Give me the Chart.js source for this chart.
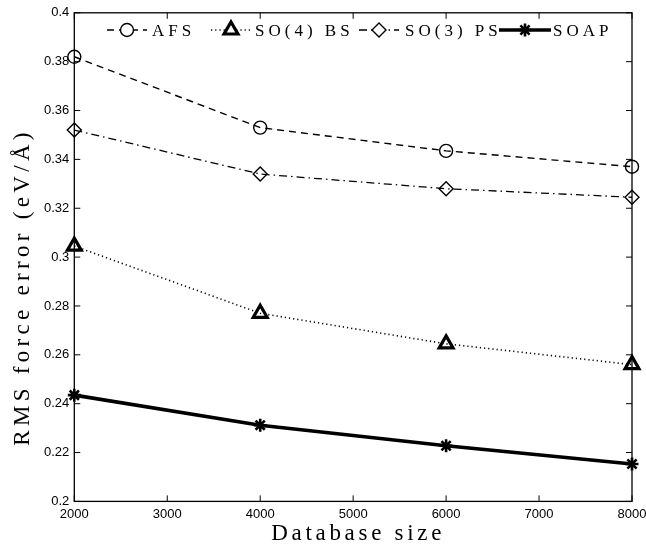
<!DOCTYPE html>
<html>
<head>
<meta charset="utf-8">
<script src="https://cdn.jsdelivr.net/npm/chart.js@4.4.1/dist/chart.umd.min.js"></script>
<style>
html,body{margin:0;padding:0;background:#fff;}
#wrap{width:646px;height:548px;}
</style>
</head>
<body>
<div id="wrap"><canvas id="c" width="646" height="548"></canvas></div>
<script>
const databaseSizes = [2000, 4000, 6000, 8000];
const afsValues = [0.382, 0.353, 0.3435, 0.337];
const so4bsValues = [0.3045, 0.277, 0.2645, 0.256];
const so3psValues = [0.352, 0.334, 0.328, 0.3245];
const soapValues = [0.2435, 0.2312, 0.2228, 0.2153];
const seriesLabels = ['AFS', 'SO(4) BS', 'SO(3) PS', 'SOAP'];
const xTicks = [2000, 3000, 4000, 5000, 6000, 7000, 8000];
const yTicks = [0.2, 0.22, 0.24, 0.26, 0.28, 0.3, 0.32, 0.34, 0.36, 0.38, 0.4];
const xTitle = 'Database size';
const yTitle = 'RMS force error (eV/Å)';

const toPts = vals => databaseSizes.map((x, i) => ({x, y: vals[i]}));

const styles = [
  {dash: [7, 5], width: 1.4, point: 'circle', radius: 6.5, pw: 1.4},
  {dash: [1.2, 3], width: 1.6, point: 'triangle', radius: 8, pw: 3.2},
  {dash: [8, 4, 1.5, 4], width: 1.3, point: 'rectRot', radius: 7, pw: 1.4},
  {dash: [], width: 3.6, point: 'star', radius: 6.5, pw: 2.6}
];
const values = [afsValues, so4bsValues, so3psValues, soapValues];

const datasets = values.map((v, i) => ({
  label: seriesLabels[i],
  data: toPts(v),
  borderColor: '#000',
  backgroundColor: '#fff',
  borderWidth: styles[i].width,
  borderDash: styles[i].dash,
  pointStyle: styles[i].point,
  pointRadius: styles[i].radius,
  pointBorderWidth: styles[i].pw,
  pointBackgroundColor: 'rgba(0,0,0,0)',
  pointBorderColor: '#000',
  tension: 0,
  clip: false
}));

const serifFont = '"Liberation Serif", "DejaVu Serif", serif';
// legend layout: marker centre, sample half-length, text start
const legendSlots = [
  {cx: 127, half: 20, tx: 152},
  {cx: 231, half: 20, tx: 255},
  {cx: 379, half: 20, tx: 405},
  {cx: 525, half: 26, tx: 553}
];

const framePlugin = {
  id: 'frame',
  afterDatasetsDraw(chart) {
    const ctx = chart.ctx;
    const a = chart.chartArea;
    const xs = chart.scales.x, ys = chart.scales.y;
    ctx.save();
    ctx.strokeStyle = '#000';
    ctx.lineWidth = 1.3;
    ctx.setLineDash([]);
    ctx.strokeRect(a.left, a.top, a.right - a.left, a.bottom - a.top);
    ctx.lineWidth = 1;
    const tl = 6;
    ctx.beginPath();
    xTicks.forEach(t => {
      const px = xs.getPixelForValue(t);
      ctx.moveTo(px, a.bottom); ctx.lineTo(px, a.bottom - tl);
      ctx.moveTo(px, a.top); ctx.lineTo(px, a.top + tl);
    });
    yTicks.forEach(t => {
      const py = ys.getPixelForValue(t);
      ctx.moveTo(a.left, py); ctx.lineTo(a.left + tl, py);
      ctx.moveTo(a.right, py); ctx.lineTo(a.right - tl, py);
    });
    ctx.stroke();

    // axis titles
    ctx.fillStyle = '#000';
    ctx.font = '23px ' + serifFont;
    ctx.letterSpacing = '3.7px';
    ctx.textAlign = 'center';
    ctx.textBaseline = 'alphabetic';
    ctx.fillText(xTitle, (a.left + a.right) / 2 + 5, 540);
    ctx.letterSpacing = '4.3px';
    ctx.save();
    ctx.translate(29, 287);
    ctx.rotate(-Math.PI / 2);
    ctx.fillText(yTitle, 0, 0);
    ctx.restore();

    // legend inside
    const y = 30;
    ctx.font = '17px ' + serifFont;
    ctx.letterSpacing = '4px';
    ctx.textAlign = 'left';
    ctx.textBaseline = 'alphabetic';
    chart.data.datasets.forEach((ds, i) => {
      const st = styles[i];
      const sl = legendSlots[i];
      ctx.save();
      ctx.lineWidth = st.width;
      ctx.setLineDash(st.dash);
      ctx.beginPath();
      ctx.moveTo(sl.cx - sl.half, y); ctx.lineTo(sl.cx + sl.half, y);
      ctx.stroke();
      ctx.restore();
      ctx.save();
      ctx.lineWidth = st.pw;
      ctx.strokeStyle = '#000';
      ctx.fillStyle = '#fff';
      ctx.setLineDash([]);
      Chart.helpers.drawPoint(ctx, {pointStyle: st.point, radius: st.radius, borderWidth: st.pw}, sl.cx, y);
      ctx.restore();
      ctx.fillText(ds.label, sl.tx, y + 6);
    });
    ctx.restore();
  }
};

new Chart(document.getElementById('c'), {
  type: 'line',
  data: {datasets},
  options: {
    responsive: false,
    animation: false,
    devicePixelRatio: 1,
    layout: {padding: {left: 39, top: 6, right: 0, bottom: 21}},
    plugins: {legend: {display: false}, tooltip: {enabled: false}},
    scales: {
      x: {
        type: 'linear', min: 2000, max: 8000,
        afterBuildTicks: s => { s.ticks = xTicks.map(v => ({value: v})); },
        afterFit: s => { s.paddingRight = 14; },
        grid: {display: false, drawTicks: false},
        border: {display: false},
        ticks: {color: '#000', padding: 5, font: {family: '"Liberation Sans", Arial, sans-serif', size: 13}, maxRotation: 0, callback: v => String(v)}
      },
      y: {
        type: 'linear', min: 0.2, max: 0.4,
        afterBuildTicks: s => { s.ticks = yTicks.map(v => ({value: v})); },
        grid: {display: false, drawTicks: false},
        border: {display: false},
        ticks: {color: '#000', padding: 5, font: {family: '"Liberation Sans", Arial, sans-serif', size: 13}, callback: v => String(Math.round(v * 100) / 100)}
      }
    }
  },
  plugins: [framePlugin]
});
</script>
</body>
</html>
